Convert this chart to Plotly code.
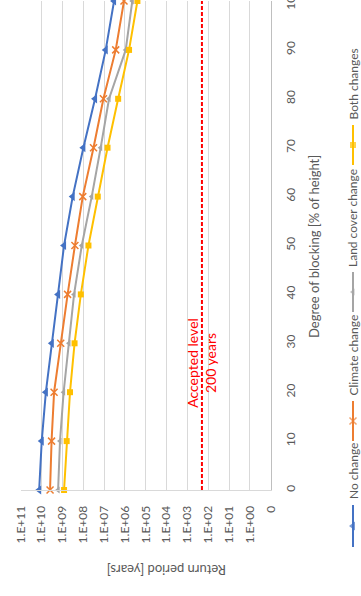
import plotly.graph_objects as go

# Return period [years] against degree of blocking [% of height]
degree = [0, 10, 20, 30, 40, 50, 60, 70, 80, 90, 100]
no_change = [1.3e10, 9.8e9, 6.2e9, 3.2e9, 1.6e9, 8.3e8, 3.2e8, 9.8e7, 2.7e7, 8.3e6, 3.3e6]
climate_change = [3.9e9, 3.3e9, 2.5e9, 1.2e9, 5.6e8, 2.5e8, 1.05e8, 3.2e7, 1.07e7, 2.75e6, 1.1e6]
land_cover_change = [1.6e9, 1.3e9, 8.7e8, 4.8e8, 2.75e8, 1.17e8, 3.9e7, 1.45e7, 5.75e6, 9.1e5, 4.4e5]
both_changes = [8.3e8, 6.2e8, 4.3e8, 2.6e8, 1.3e8, 5.6e7, 2.0e7, 6.8e6, 2.1e6, 6.3e5, 2.5e5]
accepted_level = 200

series_names = ["No change", "Climate change", "Land cover change", "Both changes"]
period_ticks = [1e11, 1e10, 1e9, 1e8, 1e7, 1e6, 1e5, 1e4, 1e3, 1e2, 1e1, 1e0, 1e-1]
period_labels = ["1.E+11", "1.E+10", "1.E+09", "1.E+08", "1.E+07", "1.E+06",
                 "1.E+05", "1.E+04", "1.E+03", "1.E+02", "1.E+01", "1.E+00", "0"]
degree_ticks = [0, 10, 20, 30, 40, 50, 60, 70, 80, 90, 100]

W, H = 361, 596
FONT = "Lato"
TXT = "#595959"


def fx(px):
    return px / W


def fy(py):
    return 1 - py / H


styles = [
    dict(color="#4472C4", symbol="triangle-left", size=8, lw=0),
    dict(color="#ED7D31", symbol="x-thin", size=7, lw=1.5),
    dict(color="#A5A5A5", symbol="triangle-left", size=6, lw=0),
    dict(color="#FFC000", symbol="square", size=6, lw=0),
]
series = [no_change, climate_change, land_cover_change, both_changes]

fig = go.Figure()

for name, vals, st in zip(series_names, series, styles):
    fig.add_trace(go.Scatter(
        x=vals, y=degree, mode="lines+markers", name=name,
        line=dict(color=st["color"], width=2),
        marker=dict(symbol=st["symbol"], size=st["size"], color=st["color"],
                    line=dict(color=st["color"], width=st["lw"])),
        cliponaxis=False, showlegend=False,
    ))

# accepted return period
fig.add_trace(go.Scatter(
    x=[accepted_level, accepted_level], y=[degree[0], degree[-1]], mode="lines",
    line=dict(color="#FF0000", width=2, dash="4px,2px"), showlegend=False,
))

# hand-built legend, reading bottom to top along the right edge
legend_items = [  # (line bottom, line top, text start) in px
    (547, 505, 501),
    (441, 401, 398),
    (312, 272, 269),
    (165, 125, 122),
]
for name, st, (yb, yt, ys) in zip(series_names, styles, legend_items):
    fig.add_trace(go.Scatter(
        x=[353, 353, 353], y=[yb, (yb + yt) / 2, yt], mode="lines+markers",
        line=dict(color=st["color"], width=2),
        marker=dict(symbol=st["symbol"], size=[0, st["size"], 0], color=st["color"],
                    line=dict(color=st["color"], width=st["lw"])),
        xaxis="x2", yaxis="y2", showlegend=False, cliponaxis=False,
    ))

annotations = []
for name, (yb, yt, ys) in zip(series_names, legend_items):
    annotations.append(dict(
        text=name, textangle=-90, xref="paper", yref="paper",
        x=fx(353), y=fy(ys), xanchor="center", yanchor="bottom",
        showarrow=False, font=dict(family=FONT, size=12, color=TXT),
    ))

annotations += [
    dict(text="Return period [years]", textangle=180, xref="paper", yref="paper",
         x=fx(167), y=fy(570), xanchor="center", yanchor="middle", showarrow=False,
         font=dict(family=FONT, size=13, color=TXT)),
    dict(text="Degree of blocking [% of height]", textangle=-90, xref="paper", yref="paper",
         x=fx(314), y=fy(247), xanchor="center", yanchor="middle", showarrow=False,
         font=dict(family=FONT, size=13, color=TXT)),
    dict(text="Accepted level<br>200 years", textangle=-90, xref="x", yref="y",
         x=2.301, y=26, xanchor="center", yanchor="middle", showarrow=False,
         font=dict(family=FONT, size=14, color="#FF0000")),
]

fig.update_layout(
    width=W, height=H,
    margin=dict(l=0, r=0, t=0, b=0),
    paper_bgcolor="white", plot_bgcolor="rgba(0,0,0,0)",
    font=dict(family=FONT, color=TXT),
    showlegend=False,
    xaxis=dict(
        type="log", range=[11, -1], domain=[fx(20.7), fx(270.7)],
        tickvals=period_ticks, ticktext=period_labels, tickangle=-90,
        tickfont=dict(family=FONT, size=12, color=TXT),
        ticklabelstandoff=10,
        showgrid=True, gridcolor="#d9d9d9", gridwidth=1,
        showline=True, linecolor="#d9d9d9", linewidth=1,
        ticks="", zeroline=False, automargin=False,
    ),
    yaxis=dict(
        range=[0, 100], domain=[fy(490), fy(1)], side="right",
        tickvals=degree_ticks, tickangle=-90,
        tickfont=dict(family=FONT, size=12, color=TXT),
        ticklabelstandoff=9, ticklabeloverflow="allow",
        showgrid=False, showline=True, linecolor="#bfbfbf", linewidth=1,
        ticks="", zeroline=False, automargin=False,
    ),
    xaxis2=dict(domain=[0, 1], range=[0, W], visible=False, anchor="y2"),
    yaxis2=dict(domain=[0, 1], range=[H, 0], visible=False, anchor="x2"),
    annotations=annotations,
)

fig.write_html("out.html")
